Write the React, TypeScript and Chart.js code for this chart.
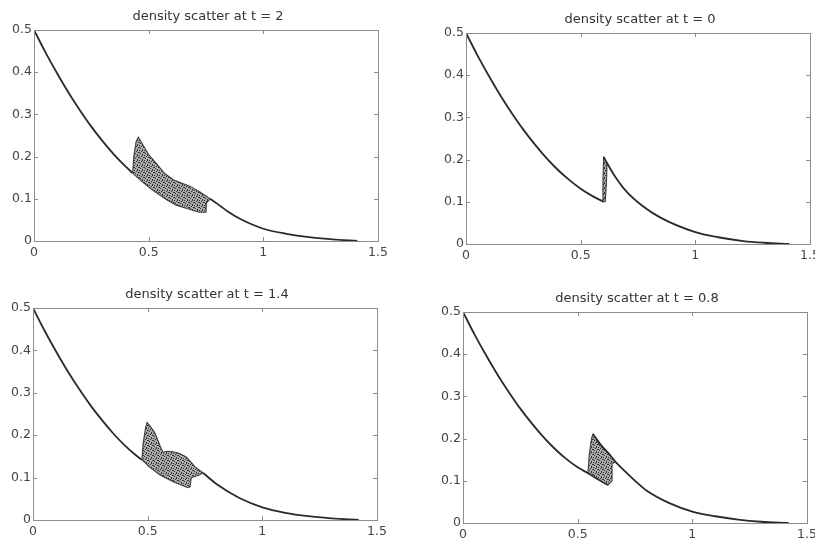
import React, { useEffect, useRef } from "react";
import { Chart, registerables } from "chart.js";

Chart.register(...registerables);

type P = { x: number; y: number };

const xTicks = [0, 0.5, 1, 1.5];
const yTicks = [0, 0.1, 0.2, 0.3, 0.4, 0.5];

const titles = [
  "density scatter at t = 2",
  "density scatter at t = 0",
  "density scatter at t = 1.4",
  "density scatter at t = 0.8",
];

// ---- t = 2 (top left)
const t2Head: P[] = [
  { x: 0, y: 0.5 }, { x: 0.05, y: 0.447 }, { x: 0.1, y: 0.398 }, { x: 0.15, y: 0.352 },
  { x: 0.2, y: 0.31 }, { x: 0.25, y: 0.271 }, { x: 0.3, y: 0.236 }, { x: 0.35, y: 0.204 },
  { x: 0.4, y: 0.176 }, { x: 0.43, y: 0.161 },
];
const t2Cloud: P[] = [
  { x: 0.43, y: 0.161 }, { x: 0.435, y: 0.2 }, { x: 0.445, y: 0.235 }, { x: 0.455, y: 0.246 },
  { x: 0.47, y: 0.232 }, { x: 0.5, y: 0.205 }, { x: 0.535, y: 0.183 }, { x: 0.57, y: 0.16 },
  { x: 0.607, y: 0.145 }, { x: 0.64, y: 0.138 }, { x: 0.68, y: 0.13 }, { x: 0.724, y: 0.116 },
  { x: 0.768, y: 0.1 }, { x: 0.752, y: 0.09 }, { x: 0.75, y: 0.068 }, { x: 0.72, y: 0.068 },
  { x: 0.667, y: 0.077 }, { x: 0.62, y: 0.085 }, { x: 0.58, y: 0.097 }, { x: 0.54, y: 0.112 },
  { x: 0.5, y: 0.128 }, { x: 0.46, y: 0.146 }, { x: 0.43, y: 0.161 },
];
const t2Tail: P[] = [
  { x: 0.768, y: 0.1 }, { x: 0.8, y: 0.088 }, { x: 0.85, y: 0.068 }, { x: 0.9, y: 0.052 },
  { x: 1.0, y: 0.029 }, { x: 1.1, y: 0.017 }, { x: 1.2, y: 0.009 }, { x: 1.3, y: 0.004 },
  { x: 1.41, y: 0 },
];

// ---- t = 0 (top right)
const t0Head: P[] = [
  { x: 0, y: 0.5 }, { x: 0.05, y: 0.447 }, { x: 0.1, y: 0.398 }, { x: 0.15, y: 0.352 },
  { x: 0.2, y: 0.31 }, { x: 0.25, y: 0.271 }, { x: 0.3, y: 0.236 }, { x: 0.35, y: 0.204 },
  { x: 0.4, y: 0.176 }, { x: 0.45, y: 0.152 }, { x: 0.5, y: 0.131 }, { x: 0.55, y: 0.114 },
  { x: 0.6, y: 0.1 },
];
const t0Cloud: P[] = [
  { x: 0.595, y: 0.1 }, { x: 0.597, y: 0.15 }, { x: 0.6, y: 0.205 }, { x: 0.615, y: 0.19 },
  { x: 0.612, y: 0.14 }, { x: 0.607, y: 0.1 }, { x: 0.595, y: 0.1 },
];
const t0Tail: P[] = [
  { x: 0.6, y: 0.206 }, { x: 0.65, y: 0.16 }, { x: 0.7, y: 0.124 }, { x: 0.77, y: 0.09 },
  { x: 0.846, y: 0.063 }, { x: 1.0, y: 0.028 }, { x: 1.1, y: 0.016 }, { x: 1.21, y: 0.007 },
  { x: 1.3, y: 0.003 }, { x: 1.41, y: 0 },
];

// ---- t = 1.4 (bottom left)
const t14Head: P[] = [
  { x: 0, y: 0.5 }, { x: 0.05, y: 0.447 }, { x: 0.1, y: 0.398 }, { x: 0.15, y: 0.352 },
  { x: 0.2, y: 0.31 }, { x: 0.25, y: 0.271 }, { x: 0.3, y: 0.236 }, { x: 0.35, y: 0.204 },
  { x: 0.4, y: 0.176 }, { x: 0.45, y: 0.152 }, { x: 0.475, y: 0.142 },
];
const t14Cloud: P[] = [
  { x: 0.475, y: 0.142 }, { x: 0.48, y: 0.18 }, { x: 0.49, y: 0.215 }, { x: 0.497, y: 0.23 },
  { x: 0.51, y: 0.222 }, { x: 0.532, y: 0.205 }, { x: 0.554, y: 0.175 }, { x: 0.567, y: 0.16 },
  { x: 0.59, y: 0.162 }, { x: 0.611, y: 0.161 }, { x: 0.64, y: 0.157 }, { x: 0.67, y: 0.148 },
  { x: 0.706, y: 0.126 }, { x: 0.742, y: 0.111 }, { x: 0.72, y: 0.105 }, { x: 0.69, y: 0.1 },
  { x: 0.685, y: 0.078 }, { x: 0.676, y: 0.076 }, { x: 0.611, y: 0.09 }, { x: 0.554, y: 0.106 },
  { x: 0.51, y: 0.124 }, { x: 0.475, y: 0.142 },
];
const t14Tail: P[] = [
  { x: 0.742, y: 0.111 }, { x: 0.8, y: 0.085 }, { x: 0.9, y: 0.052 }, { x: 1.0, y: 0.03 },
  { x: 1.1, y: 0.017 }, { x: 1.2, y: 0.009 }, { x: 1.3, y: 0.004 }, { x: 1.42, y: 0 },
];

// ---- t = 0.8 (bottom right)
const t08Head: P[] = [
  { x: 0, y: 0.5 }, { x: 0.05, y: 0.447 }, { x: 0.1, y: 0.398 }, { x: 0.15, y: 0.352 },
  { x: 0.2, y: 0.31 }, { x: 0.25, y: 0.271 }, { x: 0.3, y: 0.236 }, { x: 0.35, y: 0.204 },
  { x: 0.4, y: 0.176 }, { x: 0.45, y: 0.152 }, { x: 0.5, y: 0.132 }, { x: 0.545, y: 0.118 },
  { x: 0.59, y: 0.103 }, { x: 0.632, y: 0.09 },
];
const t08Cloud: P[] = [
  { x: 0.545, y: 0.118 }, { x: 0.55, y: 0.16 }, { x: 0.56, y: 0.2 }, { x: 0.567, y: 0.211 },
  { x: 0.59, y: 0.19 }, { x: 0.62, y: 0.172 }, { x: 0.641, y: 0.161 }, { x: 0.663, y: 0.145 },
  { x: 0.65, y: 0.14 }, { x: 0.65, y: 0.1 }, { x: 0.632, y: 0.09 }, { x: 0.6, y: 0.1 },
  { x: 0.57, y: 0.11 }, { x: 0.545, y: 0.118 },
];
const t08Tail: P[] = [
  { x: 0.567, y: 0.211 }, { x: 0.6, y: 0.186 }, { x: 0.641, y: 0.161 }, { x: 0.663, y: 0.146 },
  { x: 0.7, y: 0.126 }, { x: 0.75, y: 0.1 }, { x: 0.8, y: 0.077 }, { x: 0.9, y: 0.047 },
  { x: 1.0, y: 0.027 }, { x: 1.1, y: 0.016 }, { x: 1.2, y: 0.008 }, { x: 1.3, y: 0.003 },
  { x: 1.42, y: 0 },
];

const panels = [
  { title: titles[0], head: t2Head, cloud: t2Cloud, tail: t2Tail, box: { l: 34, t: 30, r: 378, b: 241 } },
  { title: titles[1], head: t0Head, cloud: t0Cloud, tail: t0Tail, box: { l: 466, t: 33, r: 810, b: 244 } },
  { title: titles[2], head: t14Head, cloud: t14Cloud, tail: t14Tail, box: { l: 33, t: 308, r: 377, b: 520 } },
  { title: titles[3], head: t08Head, cloud: t08Cloud, tail: t08Tail, box: { l: 463, t: 312, r: 807, b: 523 } },
];

const INK = "#2a2a2a";
const AXIS = "#8c8c8c";
const FONT = "'DejaVu Sans', Verdana, sans-serif";
const PAD_L = 40, PAD_R = 15, PAD_T = 30, PAD_B = 22;

function makeStipple(): CanvasPattern | string {
  const c = document.createElement("canvas");
  c.width = 5; c.height = 5;
  const g = c.getContext("2d");
  if (!g) return "rgba(120,120,120,0.6)";
  g.fillStyle = "rgba(150,150,150,0.8)";
  g.fillRect(0, 0, 5, 5);
  g.fillStyle = "rgba(35,35,35,0.9)";
  const dots = [[0, 0], [2, 1], [4, 2], [1, 3], [3, 4], [3, 0], [0, 2]];
  for (const [dx, dy] of dots) g.fillRect(dx, dy, 1, 1);
  const p = g.createPattern(c, "repeat");
  return p || "rgba(120,120,120,0.6)";
}

const framePlugin = {
  id: "frame",
  afterDraw(chart: any, _args: any, opts: any) {
    const { ctx, chartArea: a, scales } = chart;
    ctx.save();
    ctx.strokeStyle = AXIS;
    ctx.lineWidth = 1;
    ctx.strokeRect(Math.round(a.left) + 0.5, Math.round(a.top) + 0.5, Math.round(a.right - a.left), Math.round(a.bottom - a.top));
    const tl = 4;
    ctx.beginPath();
    for (const v of xTicks) {
      const px = Math.round(scales.x.getPixelForValue(v)) + 0.5;
      ctx.moveTo(px, a.bottom); ctx.lineTo(px, a.bottom - tl);
      ctx.moveTo(px, a.top); ctx.lineTo(px, a.top + tl);
    }
    for (const v of yTicks) {
      const py = Math.round(scales.y.getPixelForValue(v)) + 0.5;
      ctx.moveTo(a.left, py); ctx.lineTo(a.left + tl, py);
      ctx.moveTo(a.right, py); ctx.lineTo(a.right - tl, py);
    }
    ctx.stroke();
    ctx.fillStyle = "#333";
    ctx.font = `13px ${FONT}`;
    ctx.textAlign = "center";
    ctx.textBaseline = "alphabetic";
    ctx.fillText(opts.text, (a.left + a.right) / 2 + 2, a.top - 10);
    ctx.restore();
  },
};

function Panel({ p }: { p: (typeof panels)[number] }) {
  const ref = useRef<HTMLCanvasElement | null>(null);
  const w = p.box.r - p.box.l + PAD_L + PAD_R;
  const h = p.box.b - p.box.t + PAD_T + PAD_B;
  useEffect(() => {
    if (!ref.current) return;
    const stipple = makeStipple();
    const lineDs = (data: P[], width: number) => ({
      data,
      showLine: true,
      borderColor: INK,
      borderWidth: width,
      pointRadius: 0,
      cubicInterpolationMode: "monotone",
      fill: false,
    });
    const tickFont = { family: FONT, size: 12.5 };
    const chart = new Chart(ref.current, {
      type: "scatter",
      data: {
        datasets: [
          {
            data: p.cloud,
            showLine: true,
            borderColor: "rgba(40,40,40,0.85)",
            borderWidth: 1.1,
            pointRadius: 0,
            tension: 0,
            fill: "shape",
            backgroundColor: stipple as any,
          } as any,
          lineDs(p.head, 1.8) as any,
          lineDs(p.tail, 1.8) as any,
        ],
      },
      options: {
        animation: false,
        responsive: false,
        maintainAspectRatio: false,
        events: [],
        layout: { padding: { left: 0, right: PAD_R, top: PAD_T, bottom: 0 } },
        plugins: {
          legend: { display: false },
          tooltip: { enabled: false },
          frame: { text: p.title },
        } as any,
        scales: {
          x: {
            type: "linear",
            min: 0,
            max: 1.5,
            afterBuildTicks: (s: any) => { s.ticks = xTicks.map((v) => ({ value: v })); },
            afterFit: (s: any) => { s.height = PAD_B; },
            grid: { display: false, drawTicks: false },
            border: { display: false },
            ticks: { padding: 4, font: tickFont, color: "#444", maxRotation: 0, autoSkip: false, callback: (v: any) => String(v) },
          },
          y: {
            type: "linear",
            min: 0,
            max: 0.5,
            afterBuildTicks: (s: any) => { s.ticks = yTicks.map((v) => ({ value: v })); },
            afterFit: (s: any) => { s.width = PAD_L; },
            grid: { display: false, drawTicks: false },
            border: { display: false },
            ticks: { padding: 2, font: tickFont, color: "#444", autoSkip: false, callback: (v: any) => String(v) },
          },
        },
      },
      plugins: [framePlugin as any],
    });
    return () => chart.destroy();
  }, []);
  return (
    <canvas
      ref={ref}
      width={w}
      height={h}
      style={{ position: "absolute", left: p.box.l - PAD_L, top: p.box.t - PAD_T, width: w, height: h }}
    />
  );
}

export default function App() {
  return (
    <div
      style={{
        position: "fixed",
        left: 0,
        top: 0,
        width: 815,
        height: 540,
        overflow: "hidden",
        background: "#fff",
      }}
    >
      {panels.map((p, i) => (
        <Panel key={i} p={p} />
      ))}
    </div>
  );
}
